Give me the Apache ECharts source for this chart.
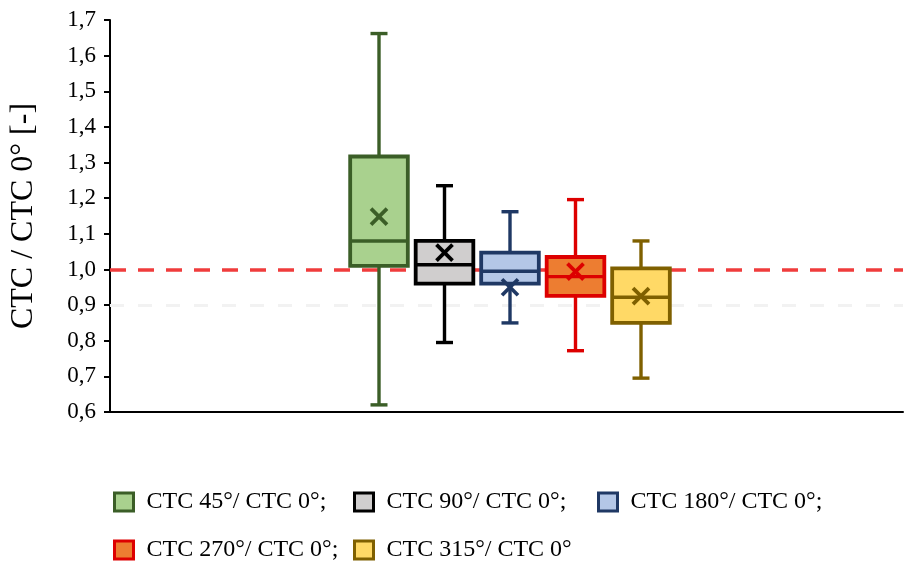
<!DOCTYPE html>
<html>
<head>
<meta charset="utf-8">
<script src="https://cdn.jsdelivr.net/npm/echarts@6/dist/echarts.min.js"></script>
<style>html,body{margin:0;padding:0;background:#fff}#c{width:905px;height:564px}</style>
</head>
<body>
<div id="c"></div>
<script>
const categories = ['CTC 45°/ CTC 0°;', 'CTC 90°/ CTC 0°;', 'CTC 180°/ CTC 0°;', 'CTC 270°/ CTC 0°;', 'CTC 315°/ CTC 0°'];
const mins    = [0.62, 0.795, 0.85, 0.772, 0.695];
const q1s     = [1.010, 0.960, 0.960, 0.926, 0.850];
const medians = [1.080, 1.013, 0.995, 0.980, 0.922];
const q3s     = [1.317, 1.080, 1.047, 1.035, 1.003];
const maxs    = [1.662, 1.235, 1.162, 1.196, 1.080];
const means   = [1.148, 1.047, 0.950, 0.994, 0.925];
const refLines = [1.0, 0.9];
const yTicks = { min: 0.6, max: 1.7, interval: 0.1 };

const borderColors = ['#3b5e27', '#000000', '#1f3864', '#dd0000', '#7f6000'];
const fillColors   = ['#a9d18e', '#d0cece', '#b4c7e7', '#ed7d31', '#ffd966'];

const FONT = "'Liberation Serif', 'Times New Roman', serif";

function makeRender(idx) {
  return function (params, api) {
    const xi = api.value(0);
    const band = api.size([1, 0])[0];
    const bw = band * 0.88;
    const cx = api.coord([xi, api.value(3)])[0];
    const yMin = api.coord([xi, api.value(1)])[1];
    const yQ1 = api.coord([xi, api.value(2)])[1];
    const yMed = api.coord([xi, api.value(3)])[1];
    const yQ3 = api.coord([xi, api.value(4)])[1];
    const yMax = api.coord([xi, api.value(5)])[1];
    const yMean = api.coord([xi, api.value(6)])[1];
    const stroke = borderColors[idx];
    const lw = 3.4;
    const cap = 8.5;
    const xs = 8;
    const line = (x1, y1, x2, y2, w) => ({
      type: 'line',
      shape: { x1, y1, x2, y2 },
      style: { stroke, lineWidth: w || lw, fill: null }
    });
    return {
      type: 'group',
      children: [
        line(cx, yQ3, cx, yMax),
        line(cx, yQ1, cx, yMin),
        line(cx - cap, yMax, cx + cap, yMax),
        line(cx - cap, yMin, cx + cap, yMin),
        {
          type: 'rect',
          shape: { x: cx - bw / 2, y: yQ3, width: bw, height: yQ1 - yQ3 },
          style: { fill: fillColors[idx], stroke, lineWidth: 3.8 }
        },
        line(cx - bw / 2, yMed, cx + bw / 2, yMed),
        line(cx - xs, yMean - xs, cx + xs, yMean + xs, 3.8),
        line(cx - xs, yMean + xs, cx + xs, yMean - xs, 3.8)
      ]
    };
  };
}

const boxSeries = categories.map((name, i) => ({
  type: 'custom',
  name: name,
  xAxisIndex: 1,
  yAxisIndex: 1,
  z: 5,
  silent: true,
  renderItem: makeRender(i),
  encode: { x: 0, y: [1, 2, 3, 4, 5, 6] },
  data: [[i, mins[i], q1s[i], medians[i], q3s[i], maxs[i], means[i]]]
}));

const legendPos = [
  { left: 113, top: 490 },
  { left: 353, top: 490 },
  { left: 597, top: 490 },
  { left: 113, top: 538 },
  { left: 353, top: 538 }
];

const legends = categories.map((name, i) => ({
  left: legendPos[i].left,
  top: legendPos[i].top,
  padding: 0,
  orient: 'horizontal',
  selectedMode: false,
  itemWidth: 19,
  itemHeight: 18,
  icon: 'rect',
  textStyle: { fontFamily: FONT, fontSize: 24, color: '#000', padding: [0, 0, 0, 8] },
  data: [{ name: name, icon: 'rect', itemStyle: { color: fillColors[i], borderColor: borderColors[i], borderWidth: 3 } }]
}));

const option = {
  animation: false,
  backgroundColor: '#ffffff',
  legend: legends,
  grid: [
    { left: 107, right: 2, top: 20, bottom: 152 },
    { left: 346.25, width: 327.5, top: 20, bottom: 152 }
  ],
  xAxis: [
    {
      gridIndex: 0, type: 'category', data: [''],
      axisLine: { show: true, lineStyle: { color: '#000', width: 2 } },
      axisTick: { show: false }, axisLabel: { show: false }, splitLine: { show: false }
    },
    {
      gridIndex: 1, type: 'category', data: categories, boundaryGap: true,
      show: false
    }
  ],
  yAxis: [
    {
      gridIndex: 0, type: 'value', min: yTicks.min, max: yTicks.max, interval: yTicks.interval,
      name: 'CTC / CTC 0° [-]', nameLocation: 'middle', nameRotate: 90, nameGap: 70,
      nameTextStyle: { fontFamily: FONT, fontSize: 32, color: '#000' },
      axisLine: { show: true, lineStyle: { color: '#000', width: 2 } },
      axisTick: { show: true, length: 6, lineStyle: { color: '#000', width: 2 } },
      axisLabel: {
        fontFamily: FONT, fontSize: 23, color: '#000', margin: 14,
        formatter: v => v.toFixed(1).replace('.', ',')
      },
      splitLine: { show: false }
    },
    {
      gridIndex: 1, type: 'value', min: yTicks.min, max: yTicks.max, interval: yTicks.interval,
      show: false, splitLine: { show: false }
    }
  ],
  series: [
    {
      type: 'line',
      name: '_ref',
      xAxisIndex: 0,
      yAxisIndex: 0,
      data: [],
      z: 1,
      silent: true,
      markLine: {
        silent: true,
        symbol: 'none',
        label: { show: false },
        animation: false,
        data: [
          { yAxis: refLines[0], lineStyle: { color: '#f03c3c', width: 3.5, type: [16, 12] } },
          { yAxis: refLines[1], lineStyle: { color: '#f2f2f2', width: 3, type: [14, 14] } }
        ]
      }
    }
  ].concat(boxSeries)
};

const chart = echarts.init(document.getElementById('c'), null, { renderer: 'canvas' });
chart.setOption(option);
</script>
</body>
</html>
